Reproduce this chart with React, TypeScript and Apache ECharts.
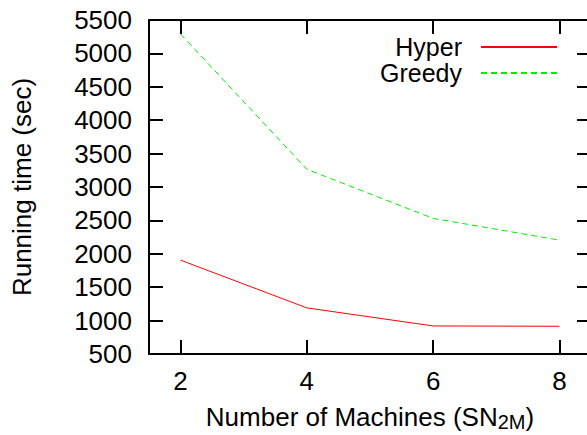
import React, { useEffect, useRef } from "react";
import * as echarts from "echarts";

const machines = [2, 4, 6, 8];
const hyper = [1905, 1190, 920, 915];
const greedy = [5290, 3265, 2530, 2205];
const xTicks = [2, 4, 6, 8];
const seriesNames = ["Hyper", "Greedy"];

const FONT = "'Liberation Sans', Arial, Helvetica, sans-serif";

export default function App() {
  const ref = useRef<HTMLDivElement>(null);
  useEffect(() => {
    if (!ref.current) return;
    const chart = echarts.init(ref.current, undefined, { renderer: "svg" });
    const axisLine = { show: true, lineStyle: { color: "#000", width: 2 } };
    const tick = (show: boolean) => ({
      show,
      inside: true,
      length: 14,
      lineStyle: { color: "#000", width: 2 },
    });
    chart.setOption({
      animation: false,
      backgroundColor: "#fff",
      textStyle: { fontFamily: FONT },
      grid: {
        left: 149,
        top: 20,
        width: 442,
        height: 334,
        containLabel: false,
        outerBoundsMode: "none",
      },
      legend: {
        orient: "vertical",
        right: 29,
        top: 34,
        padding: 0,
        align: "right",
        itemWidth: 76,
        itemHeight: 14,
        itemGap: 0,
        data: seriesNames,
        itemStyle: { opacity: 0 },
        textStyle: {
          fontFamily: FONT,
          fontSize: 25,
          color: "#000",
          lineHeight: 26,
          padding: [0, 14, 0, 0],
        },
      },
      xAxis: [
        {
          type: "value",
          position: "bottom",
          min: 1.5,
          max: 8.5,
          name: "Number of Machines (SN{sub|2M})",
          nameLocation: "middle",
          nameGap: 48,
          nameTextStyle: {
            fontFamily: FONT,
            fontSize: 26,
            color: "#000",
            rich: {
              sub: { fontFamily: FONT, fontSize: 20, color: "#000", padding: [10, 0, 0, 0] },
            },
          },
          axisLine,
          axisTick: { ...tick(true), customValues: xTicks },
          axisLabel: {
            customValues: xTicks,
            fontFamily: FONT,
            fontSize: 26,
            color: "#000",
            margin: 14,
          },
          splitLine: { show: false },
        },
        {
          type: "value",
          position: "top",
          min: 1.5,
          max: 8.5,
          axisLine,
          axisTick: { ...tick(true), customValues: xTicks },
          axisLabel: { show: false },
          splitLine: { show: false },
        },
      ],
      yAxis: [
        {
          type: "value",
          position: "left",
          min: 500,
          max: 5500,
          interval: 500,
          name: "Running time (sec)",
          nameLocation: "middle",
          nameGap: 114,
          nameRotate: 90,
          nameTextStyle: { fontFamily: FONT, fontSize: 26, color: "#000" },
          axisLine,
          axisTick: tick(true),
          axisLabel: {
            fontFamily: FONT,
            fontSize: 26,
            color: "#000",
            margin: 17,
            formatter: (v: number) => String(v),
          },
          splitLine: { show: false },
        },
        {
          type: "value",
          position: "right",
          min: 500,
          max: 5500,
          interval: 500,
          axisLine,
          axisTick: tick(true),
          axisLabel: { show: false },
          splitLine: { show: false },
        },
      ],
      series: [
        {
          name: seriesNames[0],
          type: "line",
          data: machines.map((m, i) => [m, hyper[i]]),
          symbol: "none",
          lineStyle: { color: "#ff0000", width: 1 },
          itemStyle: { color: "#ff0000" },
        },
        {
          name: seriesNames[1],
          type: "line",
          data: machines.map((m, i) => [m, greedy[i]]),
          symbol: "none",
          lineStyle: { color: "#00ee00", width: 1, type: [6, 4] },
          itemStyle: { color: "#00ee00" },
        },
      ],
    });
    return () => chart.dispose();
  }, []);
  return (
    <div
      ref={ref}
      style={{ position: "absolute", left: 0, top: 0, width: 587, height: 435 }}
    />
  );
}
